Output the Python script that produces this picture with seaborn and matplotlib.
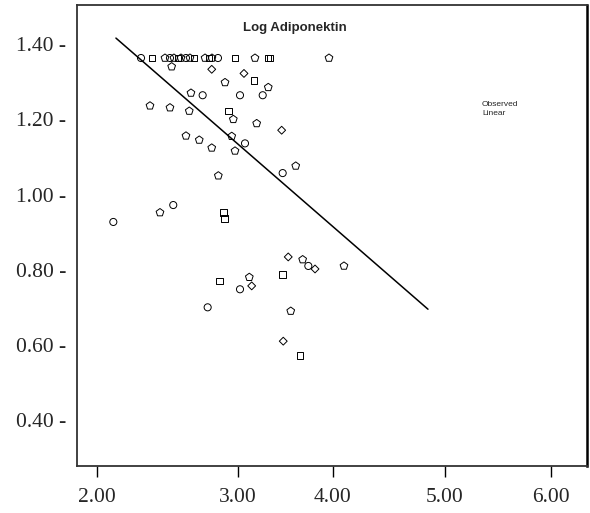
import matplotlib
matplotlib.use('Agg')
from matplotlib import pyplot as plt
import seaborn as sns
import pandas as pd

# observed points (x, y, marker shape as drawn in the scan)
obs_x = [2.388, 2.485, 2.599, 2.643, 2.678, 2.714, 2.740, 2.784, 2.819, 2.855,
         2.952, 2.987, 3.013, 3.066, 3.216, 3.392, 3.507, 3.524, 4.044,
         2.658, 3.011, 3.295, 3.383, 3.128, 3.509, 2.828, 2.931, 3.260, 3.460,
         2.467, 2.643, 2.813, 3.157, 3.201, 3.407, 3.627, 2.784, 2.901, 3.187,
         3.304, 3.011, 3.216, 3.751, 3.636, 3.069, 2.672, 2.555, 2.144, 3.113,
         3.122, 3.685, 3.812, 3.862, 3.921, 4.176, 3.636, 3.342, 3.363, 3.078,
         3.260, 2.975, 3.707, 3.641, 3.789]
obs_y = [1.363, 1.363, 1.363, 1.363, 1.363, 1.363, 1.363, 1.363, 1.363, 1.363,
         1.363, 1.363, 1.363, 1.363, 1.363, 1.363, 1.363, 1.363, 1.363,
         1.340, 1.333, 1.322, 1.304, 1.298, 1.285, 1.270, 1.264, 1.264, 1.264,
         1.236, 1.231, 1.222, 1.222, 1.200, 1.189, 1.171, 1.156, 1.145, 1.155,
         1.136, 1.124, 1.116, 1.076, 1.057, 1.050, 0.972, 0.952, 0.927, 0.952,
         0.936, 0.834, 0.827, 0.810, 0.802, 0.810, 0.788, 0.780, 0.757, 0.770,
         0.748, 0.700, 0.690, 0.610, 0.571]
obs_shape = ['o', 's', 'p', 'o', 'p', 's', 'p', 'o', 'p', 's',
             'p', 's', 'p', 'o', 's', 'p', 's', 's', 'p',
             'p', 'D', 'D', 's', 'p', 'p', 'p', 'o', 'o', 'o',
             'p', 'p', 'p', 's', 'p', 'p', 'D', 'p', 'p', 'p',
             'o', 'p', 'p', 'p', 'o', 'p', 'o', 'p', 'o', 's',
             's', 'D', 'p', 'o', 'D', 'p', 's', 'p', 'D', 's',
             'o', 'o', 'p', 'D', 's']

# linear fit line, end points
fit_x = [2.167, 4.916]
fit_y = [1.416, 0.695]

xtick_pos = [2.0, 3.242, 4.079, 5.066, 6.0]
xtick_labels = ['2.00', '3.00', '4.00', '5.00', '6.00']
ytick_pos = [0.40, 0.60, 0.80, 1.00, 1.20, 1.40]
ytick_labels = ['0.40 -', '0.60 -', '0.80 -', '1.00 -', '1.20 -', '1.40 -']

obs = pd.DataFrame({'x': obs_x, 'y': obs_y, 'shape': obs_shape})
fit = pd.DataFrame({'x': fit_x, 'y': fit_y})
sizes = {'o': 26, 's': 24, 'p': 34, 'D': 16}

sns.set_style('white')
fig = plt.figure(figsize=(5.9, 5.13), dpi=100)
ax = fig.add_axes([77 / 590, 1 - 466 / 513, 510 / 590, 461 / 513])

for m, grp in obs.groupby('shape'):
    sns.scatterplot(x='x', y='y', data=grp, marker=m, s=sizes[m],
                    facecolors='none', edgecolor='black', linewidth=0.7, ax=ax)

sns.lineplot(x='x', y='y', data=fit, color='black', linewidth=1.1, ax=ax)

ax.set_xlim(1.824, 6.317)
ax.set_ylim(0.278, 1.504)
ax.set_xlabel('')
ax.set_ylabel('')

ax.set_xticks(xtick_pos)
ax.set_xticklabels(xtick_labels, family='Liberation Serif', fontsize=15.5)
ax.set_yticks(ytick_pos)
ax.set_yticklabels(ytick_labels, family='Liberation Serif', fontsize=15.5)
ax.tick_params(axis='x', direction='out', length=8, width=1, color='black',
               pad=8, bottom=True)
ax.tick_params(axis='y', length=0, pad=8)

for s in ax.spines.values():
    s.set_color('#333333')
    s.set_linewidth(1.3)
ax.spines['right'].set_color('black')
ax.spines['right'].set_linewidth(1.8)

ax.text(0.427, 0.950, 'Log Adiponektin', transform=ax.transAxes,
        ha='center', va='center', fontsize=9.5, fontweight='bold',
        family='Liberation Sans')
ax.text(0.794, 0.785, 'Observed', transform=ax.transAxes, ha='left',
        va='center', fontsize=6, family='Liberation Sans')
ax.text(0.794, 0.764, 'Linear', transform=ax.transAxes, ha='left',
        va='center', fontsize=6, family='Liberation Sans')

fig.savefig('out.png', dpi=100)
